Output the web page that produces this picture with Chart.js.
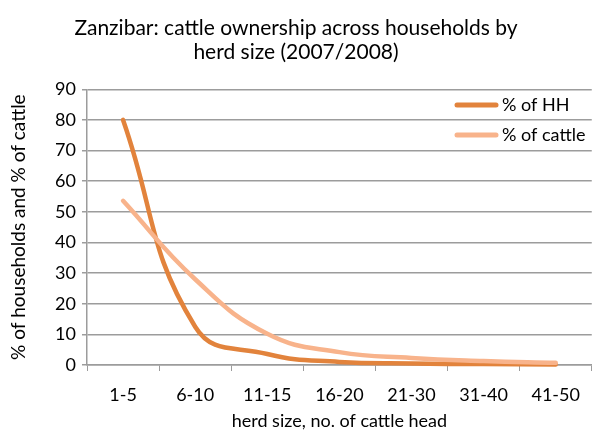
<!DOCTYPE html>
<html>
<head>
<meta charset="utf-8">
<script src="https://cdn.jsdelivr.net/npm/chart.js@4/dist/chart.umd.min.js"></script>
<style>
  html, body { margin: 0; padding: 0; background: #ffffff; }
  #wrap { width: 593px; height: 432px; position: relative; }
</style>
</head>
<body>
<div id="wrap"><canvas id="c" width="593" height="432"></canvas></div>
<script>
const categories = ["1-5", "6-10", "11-15", "16-20", "21-30", "31-40", "41-50"];
const pctHouseholds = [80, 12.5, 3.6, 1.0, 0.5, 0.3, 0.2];
const pctCattle = [53.6, 28, 10.2, 4.2, 2.3, 1.3, 0.7];
const seriesNames = ["% of HH", "% of cattle"];
const titleLines = ["Zanzibar: cattle ownership across households by", "herd size (2007/2008)"];
const xTitle = "herd size, no. of cattle head";
const yTitle = "% of households and % of cattle";

const FONT = 'Lato, "Liberation Sans", sans-serif';
const HH_COLOR = '#E2833C';
const CATTLE_COLOR = '#F8B38B';
const GRID = '#9c9c9c';

const legendPlugin = {
  id: 'insideLegend',
  afterDraw(chart) {
    const ctx = chart.ctx;
    const items = chart.data.datasets;
    ctx.save();
    ctx.font = '18px ' + FONT;
    ctx.textBaseline = 'middle';
    ctx.textAlign = 'left';
    items.forEach((ds, i) => {
      const y = 105 + i * 30;
      ctx.strokeStyle = ds.borderColor;
      ctx.lineWidth = 5;
      ctx.lineCap = 'round';
      ctx.beginPath();
      ctx.moveTo(457, y);
      ctx.lineTo(496, y);
      ctx.stroke();
      ctx.fillStyle = '#000';
      ctx.fillText(ds.label, 502, y);
    });
    ctx.restore();
  }
};

new Chart(document.getElementById('c'), {
  type: 'line',
  data: {
    labels: categories,
    datasets: [
      { label: seriesNames[0], data: pctHouseholds, borderColor: HH_COLOR, backgroundColor: HH_COLOR,
        borderWidth: 4.5, pointRadius: 0, tension: 0.45, borderCapStyle: 'round', clip: false, order: 1 },
      { label: seriesNames[1], data: pctCattle, borderColor: CATTLE_COLOR, backgroundColor: CATTLE_COLOR,
        borderWidth: 4.5, pointRadius: 0, tension: 0.45, borderCapStyle: 'round', clip: false, order: 0 }
    ]
  },
  options: {
    responsive: false,
    animation: false,
    devicePixelRatio: 1,
    layout: { padding: { left: 0, right: 1, top: 0, bottom: 0 } },
    plugins: {
      legend: { display: false },
      tooltip: { enabled: false },
      title: {
        display: true,
        text: titleLines,
        color: '#000',
        font: { family: FONT, size: 21, weight: 'normal', lineHeight: 1.15 },
        padding: { top: 16, bottom: 25 }
      }
    },
    scales: {
      x: {
        type: 'category',
        offset: true,
        grid: { offset: true, drawOnChartArea: false, drawTicks: true, tickLength: 6, color: GRID, lineWidth: 1 },
        border: { color: GRID, width: 1.5 },
        ticks: { color: '#000', font: { family: FONT, size: 18 }, padding: 13, maxRotation: 0 },
        title: { display: true, text: xTitle, color: '#000', font: { family: FONT, size: 18 }, padding: { top: 2, bottom: 0 } },
        afterFit(s) { s.height = 67; }
      },
      y: {
        min: 0, max: 90,
        ticks: { stepSize: 10, color: '#000', font: { family: FONT, size: 18 }, padding: 6 },
        grid: { color: GRID, lineWidth: 1.5, tickLength: 5 },
        border: { color: GRID, width: 1.5 },
        title: { display: true, text: yTitle, color: '#000', font: { family: FONT, size: 19 }, padding: { top: 7, bottom: 4 } },
        afterFit(s) { s.width = 87; }
      }
    }
  },
  plugins: [legendPlugin]
});
</script>
</body>
</html>
